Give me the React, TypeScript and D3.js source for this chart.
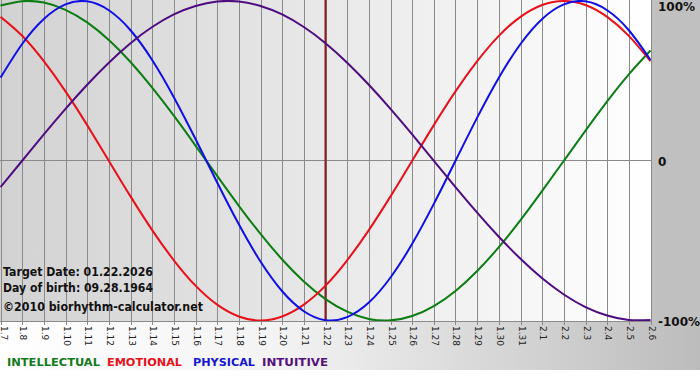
import React from "react";
import * as d3 from "d3";

const dayLabels = [
  "1.7", "1.8", "1.9", "1.10", "1.11", "1.12", "1.13", "1.14", "1.15", "1.16",
  "1.17", "1.18", "1.19", "1.20", "1.21", "1.22", "1.23", "1.24", "1.25", "1.26",
  "1.27", "1.28", "1.29", "1.30", "1.31", "2.1", "2.2", "2.3", "2.4", "2.5", "2.6",
];
const targetIndex = 15;

const intellectual = [
  0.972, 0.999, 0.99, 0.945, 0.866, 0.756, 0.618, 0.458, 0.282, 0.095, -0.095, -0.282,
  -0.458, -0.618, -0.756, -0.866, -0.945, -0.99, -0.999, -0.972, -0.91, -0.815, -0.69,
  -0.541, -0.372, -0.189, 0, 0.189, 0.372, 0.541, 0.69,
];
const emotional = [
  0.901, 0.782, 0.623, 0.434, 0.223, 0, -0.223, -0.434, -0.623, -0.782, -0.901, -0.975,
  -1.0, -0.975, -0.901, -0.782, -0.623, -0.434, -0.223, 0, 0.223, 0.434, 0.623, 0.782,
  0.901, 0.975, 1.0, 0.975, 0.901, 0.782, 0.623,
];
const physical = [
  0.52, 0.731, 0.888, 0.979, 0.998, 0.942, 0.817, 0.631, 0.398, 0.136, -0.136, -0.398,
  -0.631, -0.817, -0.942, -0.998, -0.979, -0.888, -0.731, -0.52, -0.27, 0, 0.27, 0.52,
  0.731, 0.888, 0.979, 0.998, 0.942, 0.817, 0.631,
];
const intuitive = [
  -0.165, 0, 0.165, 0.325, 0.476, 0.614, 0.736, 0.837, 0.916, 0.969, 0.997, 0.997, 0.969,
  0.916, 0.837, 0.736, 0.614, 0.476, 0.325, 0.165, 0, -0.165, -0.325, -0.476, -0.614,
  -0.736, -0.837, -0.916, -0.969, -0.997, -0.997,
];

const seriesNames = ["INTELLECTUAL", "EMOTIONAL", "PHYSICAL", "INTUITIVE"];
const yTicks = [
  { v: 1, label: "100%" },
  { v: 0, label: "0" },
  { v: -1, label: "-100%" },
];
const infoLines = [
  "Target Date: 01.22.2026",
  "Day of birth: 09.28.1964",
  "\u00a92010 biorhythm-calculator.net",
];

const W = 700;
const H = 380;
const plotRight = 651;
const plotBottom = 321;

export default function App() {
  const x = d3.scaleLinear().domain([0, dayLabels.length - 1]).range([0.5, 650.5]);
  const y = d3.scaleLinear().domain([-1, 1]).range([320.5, 1]);
  const line = d3
    .line<number>()
    .x((_, i) => x(i))
    .y((d) => y(d))
    .curve(d3.curveNatural);

  const series = [
    { name: seriesNames[0], data: intellectual, color: "#0b7d12" },
    { name: seriesNames[1], data: emotional, color: "#e8101a" },
    { name: seriesNames[2], data: physical, color: "#1010e6" },
    { name: seriesNames[3], data: intuitive, color: "#4e0c80" },
  ];
  const legendX = [7, 107, 193, 262];
  const legendW = [93, 75, 62, 66];
  const legendColors = ["#137a1a", "#e8101a", "#1616d0", "#55107a"];
  const font = "'DejaVu Sans', Verdana, sans-serif";

  return (
    <svg
      width={W}
      height={H}
      style={{ position: "absolute", left: 0, top: 0, display: "block" }}
      xmlns="http://www.w3.org/2000/svg"
    >
      <defs>
        <linearGradient id="plotBg" x1="0" y1="0" x2="1" y2="0">
          <stop offset="0%" stopColor="#d2d2d2" />
          <stop offset="100%" stopColor="#ffffff" />
        </linearGradient>
        <linearGradient id="bottomBg" x1="0" y1="0" x2="1" y2="0">
          <stop offset="0%" stopColor="#ffffff" />
          <stop offset="40%" stopColor="#f3f3f3" />
          <stop offset="100%" stopColor="#bcbcbc" />
        </linearGradient>
        <clipPath id="plotClip">
          <rect x={0} y={0} width={plotRight} height={plotBottom} />
        </clipPath>
      </defs>
      <rect x={0} y={0} width={W} height={H} fill="#ffffff" />
      <rect x={0} y={0} width={plotRight} height={plotBottom} fill="url(#plotBg)" />
      <rect x={plotRight} y={0} width={W - plotRight} height={plotBottom} fill="#c0c0c0" />
      <rect x={0} y={plotBottom} width={W} height={370 - plotBottom} fill="url(#bottomBg)" />

      {dayLabels.map((d, i) => (
        <line
          key={"g" + d}
          x1={Math.round(x(i)) + 0.5}
          x2={Math.round(x(i)) + 0.5}
          y1={0}
          y2={325}
          stroke="#8a8a8a"
          strokeWidth={1}
        />
      ))}
      <line x1={0} x2={plotRight} y1={160.5} y2={160.5} stroke="#8a8a8a" strokeWidth={1} />
      <line x1={0} x2={plotRight} y1={plotBottom + 0.5} y2={plotBottom + 0.5} stroke="#8a8a8a" strokeWidth={1} />

      {infoLines.map((t, i) => (
        <text
          key={t}
          x={3}
          y={[276, 292, 311][i]}
          fontFamily={font}
          fontWeight="bold"
          fontSize={i === 2 ? 13 : 12}
          fill="#111111"
          textLength={[150, 150, 200][i]}
          lengthAdjust="spacingAndGlyphs"
        >
          {t}
        </text>
      ))}

      <g clipPath="url(#plotClip)">
        <line
          x1={x(targetIndex)}
          x2={x(targetIndex)}
          y1={0}
          y2={plotBottom}
          stroke="#8b1c1c"
          strokeWidth={2}
        />
        {series.map((s) => (
          <path key={s.name} d={line(s.data) || ""} fill="none" stroke={s.color} strokeWidth={2} />
        ))}
      </g>

      {dayLabels.map((d, i) => (
        <text
          key={"t" + d}
          transform={`translate(${Math.max(4, Math.round(x(i)) + 0.5)},326) rotate(90)`}
          fontFamily={font}
          fontSize={9}
          fill="#222222"
          dominantBaseline="central"
          textAnchor="start"
        >
          {d}
        </text>
      ))}

      {yTicks.map((t) => (
        <text
          key={t.label}
          x={658}
          y={t.v === 1 ? 7 : t.v === 0 ? 162 : 322}
          fontFamily={font}
          fontWeight="bold"
          fontSize={12}
          fill="#111111"
          dominantBaseline="central"
        >
          {t.label}
        </text>
      ))}

      {seriesNames.map((n, i) => (
        <text
          key={n}
          x={legendX[i]}
          y={366}
          fontFamily={font}
          fontWeight="bold"
          fontSize={11}
          fill={legendColors[i]}
          textLength={legendW[i]}
          lengthAdjust="spacingAndGlyphs"
        >
          {n}
        </text>
      ))}
    </svg>
  );
}
